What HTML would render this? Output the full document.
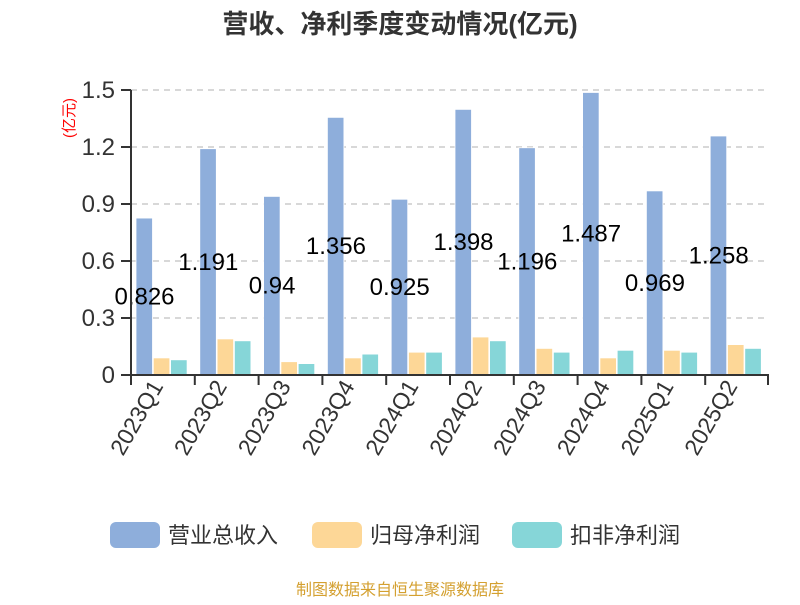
<!DOCTYPE html>
<html><head><meta charset="utf-8"><style>
body{margin:0;background:#fff;}
svg text{font-family:"Liberation Sans","Noto Sans CJK SC",sans-serif;}
</style></head><body>
<svg width="800" height="600" xmlns="http://www.w3.org/2000/svg">
<rect width="800" height="600" fill="#fff"/>
<text x="400" y="33" text-anchor="middle" font-size="26" font-weight="bold" fill="#333">营收、净利季度变动情况(亿元)</text>
<text transform="translate(74,118) rotate(-90)" text-anchor="middle" font-size="15" fill="#f00">(亿元)</text>
<g id="grid"></g>
<g id="bars"></g>
<g id="lbl"></g>
<line x1="131" y1="90" x2="131" y2="376" stroke="#333" stroke-width="2"/>
<line x1="130" y1="375" x2="769" y2="375" stroke="#333" stroke-width="2"/>
<g id="legend">
<rect x="110" y="522" width="50" height="26" rx="6" fill="#8eaedb"/>
<text x="168" y="543" font-size="22" fill="#333">营业总收入</text>
<rect x="312" y="522" width="50" height="26" rx="6" fill="#fdd797"/>
<text x="370" y="543" font-size="22" fill="#333">归母净利润</text>
<rect x="512" y="522" width="50" height="26" rx="6" fill="#86d6d8"/>
<text x="570" y="543" font-size="22" fill="#333">扣非净利润</text>
</g>
<text x="400" y="595" text-anchor="middle" font-size="16" fill="#d4a030">制图数据来自恒生聚源数据库</text>
<script>
var ns="http://www.w3.org/2000/svg";
function el(p,t,a,txt){var e=document.createElementNS(ns,t);for(var k in a)e.setAttribute(k,a[k]);if(txt!==undefined)e.textContent=txt;document.getElementById(p).appendChild(e);}
var y0=375,s=190;
var ticks=["0","0.3","0.6","0.9","1.2","1.5"];
for(var i=0;i<6;i++){var y=y0-i*0.3*s;
 if(i>0)el("grid","line",{x1:131,x2:768,y1:y,y2:y,stroke:"#ccc","stroke-width":1.5,"stroke-dasharray":"6,5"});
 el("grid","line",{x1:121,x2:131,y1:y,y2:y,stroke:"#333","stroke-width":2});
 el("grid","text",{x:115,y:y+8,"text-anchor":"end","font-size":24,fill:"#333"},ticks[i]);}
var cats=["2023Q1","2023Q2","2023Q3","2023Q4","2024Q1","2024Q2","2024Q3","2024Q4","2025Q1","2025Q2"];
var rev=[0.826,1.191,0.94,1.356,0.925,1.398,1.196,1.487,0.969,1.258];
var np=[0.09,0.19,0.07,0.09,0.12,0.20,0.14,0.09,0.13,0.16];
var dn=[0.08,0.18,0.06,0.11,0.12,0.18,0.12,0.13,0.12,0.14];
var w=63.8;
for(var i=0;i<10;i++){var x=131+i*w;
 el("grid","line",{x1:x,x2:x,y1:375,y2:385,stroke:"#333","stroke-width":2});
 var cols=["#8eaedb","#fdd797","#86d6d8"],vals=[rev[i],np[i],dn[i]];
 for(var j=0;j<3;j++){var h=vals[j]*s;el("bars","rect",{x:x+5+j*17.3,y:y0-h,width:16.5,height:h,fill:cols[j],stroke:"#fff","stroke-width":0.8});}
 el("lbl","text",{x:x+13.5,y:y0-rev[i]*s/2+8,"text-anchor":"middle","font-size":24,fill:"#000"},String(rev[i]));
 el("lbl","text",{transform:"translate("+(x+w/2+1)+",386) rotate(-60)","text-anchor":"end","font-size":23,fill:"#333"},cats[i]);}
el("grid","line",{x1:768,x2:768,y1:375,y2:385,stroke:"#333","stroke-width":2});
</script>
</svg>
</body></html>
